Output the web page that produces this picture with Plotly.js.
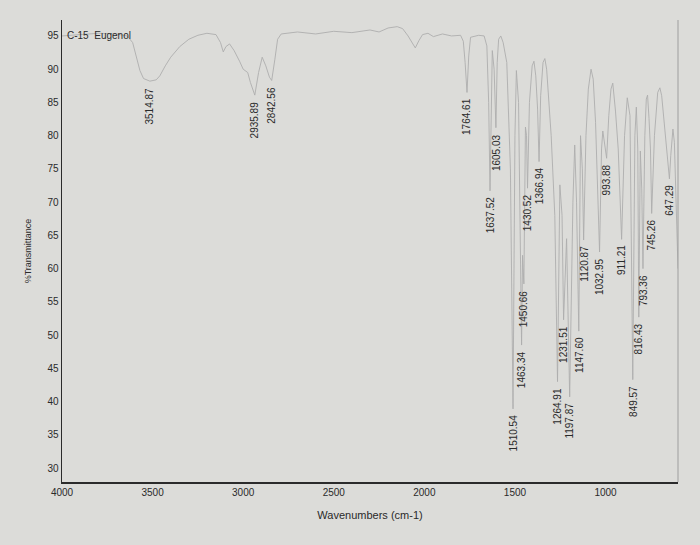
<!DOCTYPE html>
<html>
<head>
<meta charset="utf-8">
<script src="https://cdn.plot.ly/plotly-3.0.1.min.js"></script>
<style>
html,body{margin:0;padding:0;background:#dcdcd9;}
#chart{width:700px;height:545px;}
</style>
</head>
<body>
<div id="chart"></div>
<script>
// Spectrum (wavenumber cm-1, %Transmittance)
var wavenumbers = [4000,3900,3800,3700,3640,3610,3590,3570,3550,3514.87,3480,3460,3430,3400,3350,3300,3250,3200,3150,3125,3110,3095,3075,3050,3020,3000,2975,2960,2935.89,2915,2895,2875,2855,2842.56,2825,2810,2790,2700,2600,2500,2400,2300,2250,2200,2150,2120,2090,2070,2050,2030,2010,1980,1950,1900,1850,1800,1785,1775,1764.61,1755,1745,1700,1670,1655,1645,1637.52,1630,1625,1615,1605.03,1598,1590,1578,1565,1545,1525,1510.54,1500,1492,1480,1463.34,1458,1450.66,1442,1436,1430.52,1420,1405,1395,1385,1375,1366.94,1358,1345,1335,1325,1300,1280,1264.91,1252,1240,1231.51,1215,1197.87,1180,1170,1160,1147.60,1138,1128,1120.87,1108,1095,1080,1068,1055,1032.95,1022,1015,1005,993.88,982,970,960,952,945,930,911.21,895,880,865,849.57,838,830,822,816.43,808,800,793.36,783,775,768,760,752,745.26,730,712,700,690,670,655,647.29,640,628,620,610,600];
var transmittance = [95.0,95.2,95.4,95.3,95.0,94.0,92.0,89.8,88.6,88.2,88.4,89.0,90.5,91.8,93.4,94.5,95.1,95.4,95.2,94.0,92.6,93.4,93.8,92.8,91.2,90.0,89.5,88.0,86.1,89.5,91.8,90.5,88.8,88.3,91.5,94.5,95.3,95.6,95.3,95.7,95.5,95.9,95.6,96.2,96.4,96.1,95.0,94.0,93.2,94.3,95.2,95.4,94.9,95.3,95.0,95.1,94.2,91.0,86.5,92.0,94.8,95.1,95.0,93.5,85.0,71.7,88.0,92.8,90.0,81.2,91.0,94.5,95.0,94.0,91.0,75.0,38.9,80.0,89.8,85.0,48.5,62.0,57.7,81.3,80.0,72.1,85.0,90.5,91.2,89.0,84.0,76.1,86.0,91.0,91.6,90.0,80.0,68.0,43.0,72.6,68.0,52.3,64.5,40.7,70.0,78.6,70.0,50.6,80.0,75.0,64.3,80.0,87.0,90.0,88.5,82.0,62.5,78.0,80.7,79.0,76.6,83.0,87.0,87.9,86.0,83.7,78.0,64.4,80.0,85.7,83.0,43.3,80.0,84.3,78.0,52.7,77.7,72.0,60.0,80.0,85.5,86.1,82.6,78.0,68.3,80.0,86.5,87.2,86.0,80.0,76.0,73.5,77.0,81.0,79.0,68.0,60.0];
// Labelled peaks
var peakLabels = [3514.87,2935.89,2842.56,1764.61,1637.52,1605.03,1510.54,1463.34,1450.66,1430.52,1366.94,1264.91,1231.51,1197.87,1147.60,1120.87,1032.95,993.88,911.21,849.57,816.43,793.36,745.26,647.29];
var xTicks = [4000,3500,3000,2500,2000,1500,1000];
var yTicks = [30,35,40,45,50,55,60,65,70,75,80,85,90,95];

var FONT = "Liberation Sans, Arial, sans-serif";
var annotations = peakLabels.map(function(w){
  var i = wavenumbers.indexOf(w);
  return {
    x: w, y: transmittance[i], xref:'x', yref:'y', yshift:-4,
    text: w.toFixed(2), showarrow:false, textangle:-90,
    xanchor:'center', yanchor:'top',
    font:{family:FONT, size:10, color:'#2a2a2a'}
  };
});
annotations.push({
  xref:'paper', yref:'y', x:0, y:95, xanchor:'left', yanchor:'middle', xshift:3,
  text:'C-15  Eugenol', showarrow:false, font:{family:FONT, size:10, color:'#2a2a2a'}
});

var trace = {
  x: wavenumbers, y: transmittance, type:'scatter', mode:'lines',
  line:{color:'#aeaeae', width:0.9}, hoverinfo:'skip'
};

var layout = {
  width:700, height:545,
  margin:{l:62, r:22, t:20, b:63},
  paper_bgcolor:'#dcdcd9', plot_bgcolor:'#dcdcd9',
  showlegend:false,
  font:{family:FONT, size:10, color:'#2a2a2a'},
  xaxis:{
    range:[4000,600], tickvals:xTicks, ticktext:xTicks.map(String),
    showgrid:false, zeroline:false, ticks:'', showline:true,
    linecolor:'#2b2b2b', linewidth:2,
    tickfont:{family:FONT, size:10, color:'#2a2a2a'},
    title:{text:'Wavenumbers (cm-1)', standoff:14, font:{family:FONT, size:11, color:'#2a2a2a'}}
  },
  yaxis:{
    range:[27.9,97.4], tickvals:yTicks, ticktext:yTicks.map(String),
    showgrid:false, zeroline:false, ticks:'', showline:true,
    linecolor:'#2b2b2b', linewidth:1.5,
    tickfont:{family:FONT, size:10, color:'#2a2a2a'},
    title:{text:'%Transmittance', standoff:14, font:{family:FONT, size:9, color:'#2a2a2a'}}
  },
  annotations: annotations,
  shapes:[{type:'line', xref:'paper', yref:'paper', x0:1, x1:1, y0:0, y1:1,
           line:{color:'#9e9e9e', width:1}}]
};

Plotly.newPlot('chart', [trace], layout, {displayModeBar:false, staticPlot:true});
</script>
</body>
</html>
